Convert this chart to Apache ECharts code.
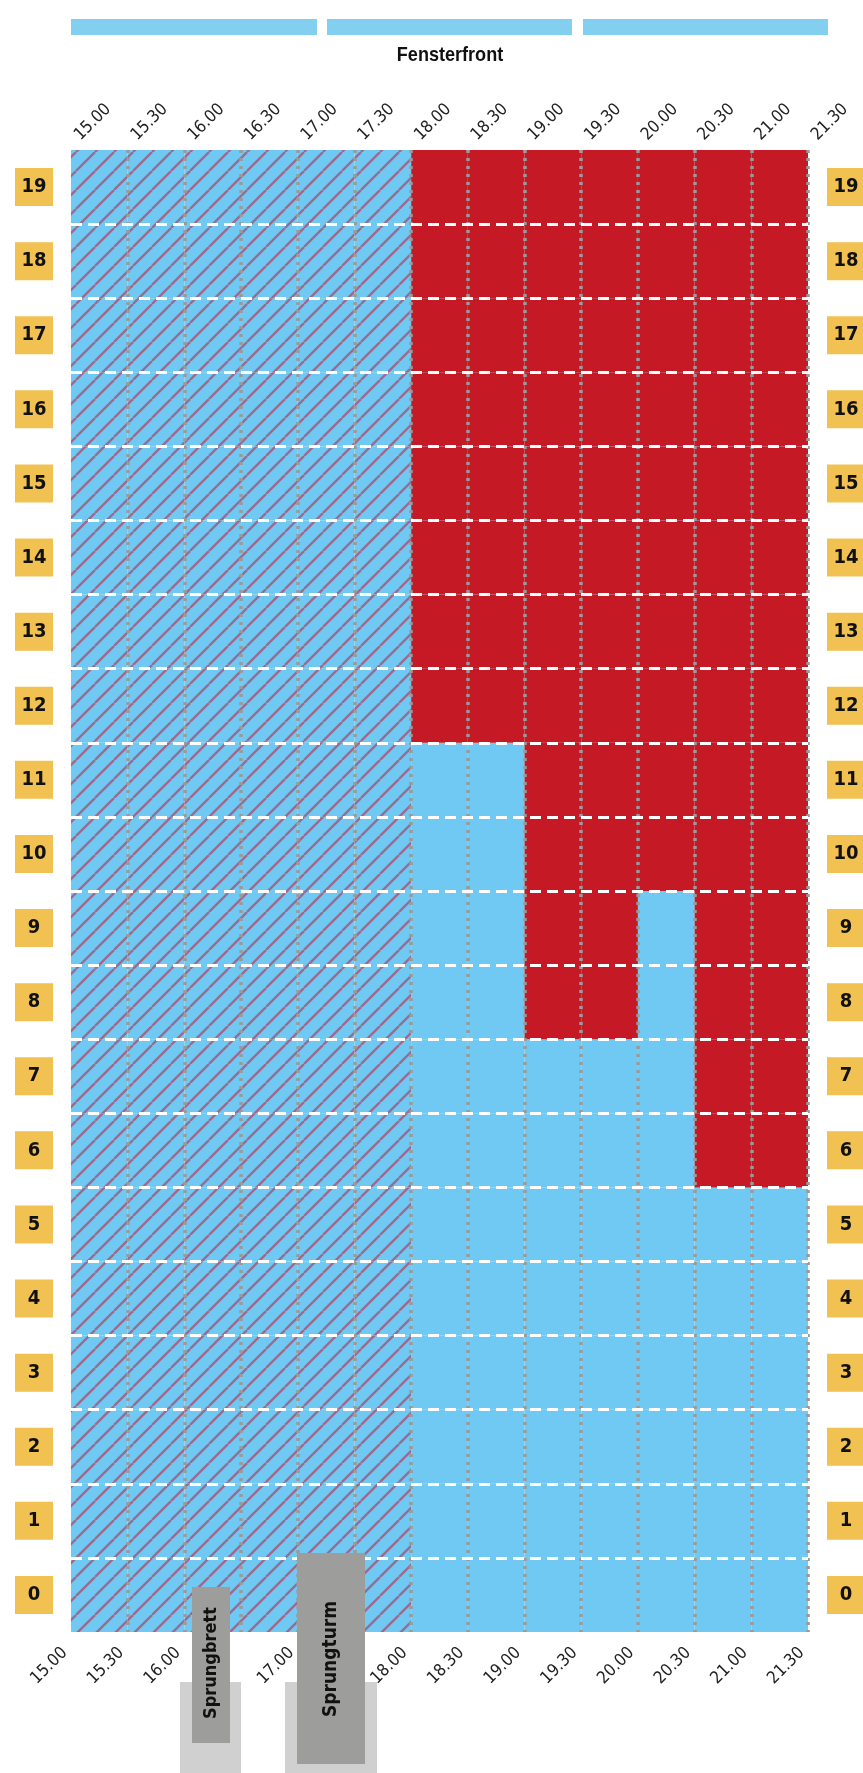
<!DOCTYPE html>
<html>
<head>
<meta charset="utf-8">
<script src="https://cdn.jsdelivr.net/npm/echarts@6/dist/echarts.min.js"></script>
<style>
  html, body { margin: 0; padding: 0; background: #fff; }
  #hallenplan { width: 863px; height: 1773px; }
</style>
</head>
<body>
<div id="hallenplan"></div>
<script>
// Zeitachse (Halbstunden-Grenzen)
const timeLabels = ["15.00", "15.30", "16.00", "16.30", "17.00", "17.30", "18.00",
  "18.30", "19.00", "19.30", "20.00", "20.30", "21.00", "21.30"];
// unten von den Sprunganlagen verdeckt
const hiddenBottomLabels = ["16.30", "17.30"];
// Bahnen
const laneLabels = ["0", "1", "2", "3", "4", "5", "6", "7", "8", "9",
  "10", "11", "12", "13", "14", "15", "16", "17", "18", "19"];
// je Bahn ein Zeichen pro Halbstunde: h = schraffiert, b = frei, r = belegt
const lanePlan = [
  "hhhhhhbbbbbbb", // 0
  "hhhhhhbbbbbbb", // 1
  "hhhhhhbbbbbbb", // 2
  "hhhhhhbbbbbbb", // 3
  "hhhhhhbbbbbbb", // 4
  "hhhhhhbbbbbbb", // 5
  "hhhhhhbbbbbrr", // 6
  "hhhhhhbbbbbrr", // 7
  "hhhhhhbbrrbrr", // 8
  "hhhhhhbbrrbrr", // 9
  "hhhhhhbbrrrrr", // 10
  "hhhhhhbbrrrrr", // 11
  "hhhhhhrrrrrrr", // 12
  "hhhhhhrrrrrrr", // 13
  "hhhhhhrrrrrrr", // 14
  "hhhhhhrrrrrrr", // 15
  "hhhhhhrrrrrrr", // 16
  "hhhhhhrrrrrrr", // 17
  "hhhhhhrrrrrrr", // 18
  "hhhhhhrrrrrrr", // 19
];

const FONT = "'Liberation Sans Narrow', 'DejaVu Sans Condensed', 'Open Sans', sans-serif";
const BLUE = "#6fc9f3";
const RED = "#c51926";

// Schraffur als Muster
const makeHatch = () => {
  const s = 19;
  const c = document.createElement("canvas");
  c.width = s;
  c.height = s;
  const ctx = c.getContext("2d");
  ctx.fillStyle = BLUE;
  ctx.fillRect(0, 0, s, s);
  ctx.strokeStyle = "#9c6a8f";
  ctx.lineWidth = 2.4;
  for (let k = -s; k <= s; k += s) {
    ctx.beginPath();
    ctx.moveTo(k, s);
    ctx.lineTo(k + s, 0);
    ctx.stroke();
  }
  return c;
};
const hatch = { image: makeHatch(), repeat: "repeat" };

// Zellen aufbauen
const cells = [];
lanePlan.forEach((row, lane) => {
  row.split("").forEach((state, slot) => {
    cells.push([slot, lane, state]);
  });
});

const chart = echarts.init(document.getElementById("hallenplan"));

const badge = {
  width: 38,
  height: 38,
  lineHeight: 38,
  align: "center",
  backgroundColor: "#f1c152",
  fontWeight: "bold",
  fontSize: 20,
  color: "#111",
  fontFamily: FONT,
};

// Zeitbeschriftung oben/unten, entlang der Schrift etwas verschoben
const timeAxis = (position, rotate, margin, pad, formatter) => ({
  type: "value",
  position: position,
  min: 0,
  max: 13,
  interval: 1,
  axisLine: { show: false },
  axisTick: { show: false },
  axisLabel: {
    rotate: rotate,
    margin: margin,
    formatter: v => "{t|" + formatter(v) + "}",
    rich: { t: { fontSize: 17, color: "#222", fontFamily: FONT, padding: pad } },
  },
});

const option = {
  animation: false,
  grid: { left: 71, top: 150, width: 737, height: 1482, outerBoundsMode: "none" },
  xAxis: [
    Object.assign(timeAxis("bottom", 45, 12, [0, 9, 0, 0], v => {
      const t = timeLabels[v];
      return hiddenBottomLabels.includes(t) ? "" : t;
    }), {
      z: 5,
      splitLine: {
        show: true,
        showMinLine: false,
        lineStyle: { color: "#9a9a9a", width: 3.5, type: [3, 5] },
      },
    }),
    Object.assign(timeAxis("top", -45, 6, [0, 0, 0, 9], v => timeLabels[v]), { splitLine: { show: false } }),
  ],
  yAxis: [
    {
      type: "category",
      data: laneLabels,
      position: "left",
      z: 6,
      axisLine: { show: false },
      axisTick: { show: false },
      axisLabel: { margin: 18, formatter: v => "{b|" + v + "}", rich: { b: badge } },
      splitLine: {
        show: true,
        showMinLine: false,
        showMaxLine: false,
        lineStyle: { color: "#fff", width: 3, type: [11, 6] },
      },
    },
    {
      type: "category",
      data: laneLabels,
      position: "right",
      axisLine: { show: false },
      axisTick: { show: false },
      axisLabel: { margin: 19, formatter: v => "{b|" + v + "}", rich: { b: badge } },
      splitLine: { show: false },
    },
  ],
  graphic: [
    // Fensterfront
    { type: "rect", shape: { x: 71, y: 19, width: 246, height: 16 }, style: { fill: "#82cff0" } },
    { type: "rect", shape: { x: 327, y: 19, width: 245, height: 16 }, style: { fill: "#82cff0" } },
    { type: "rect", shape: { x: 583, y: 19, width: 245, height: 16 }, style: { fill: "#82cff0" } },
    {
      type: "text", x: 450, y: 55, scaleX: 0.86,
      style: { text: "Fensterfront", align: "center", verticalAlign: "middle",
        fill: "#111", font: "bold 21px 'Liberation Sans', sans-serif" },
    },
    // Sprunganlagen
    { type: "rect", z: 100, shape: { x: 180, y: 1682, width: 61, height: 91 }, style: { fill: "#d0d0d0" } },
    { type: "rect", z: 100, shape: { x: 285, y: 1682, width: 92, height: 91 }, style: { fill: "#d0d0d0" } },
    { type: "rect", z: 101, shape: { x: 192, y: 1587, width: 38, height: 156 }, style: { fill: "#9d9d9c" } },
    { type: "rect", z: 101, shape: { x: 297, y: 1553, width: 68, height: 211 }, style: { fill: "#9d9d9c" } },
    {
      type: "text", z: 102, x: 211, y: 1663, rotation: Math.PI / 2,
      style: { text: "Sprungbrett", align: "center", verticalAlign: "middle",
        fill: "#111", font: "bold 18px " + FONT },
    },
    {
      type: "text", z: 102, x: 331, y: 1659, rotation: Math.PI / 2,
      style: { text: "Sprungturm", align: "center", verticalAlign: "middle",
        fill: "#111", font: "bold 19px " + FONT },
    },
  ],
  series: [
    {
      type: "custom",
      xAxisIndex: 0,
      yAxisIndex: 0,
      z: 1,
      data: cells,
      renderItem(params, api) {
        const slot = api.value(0);
        const lane = api.value(1);
        const state = cells[params.dataIndex][2];
        const a = api.coord([slot, lane]);
        const b = api.coord([slot + 1, lane]);
        const h = api.size([1, 1])[1];
        return {
          type: "rect",
          shape: { x: a[0], y: a[1] - h / 2, width: b[0] - a[0], height: h },
          style: { fill: state === "r" ? RED : state === "h" ? hatch : BLUE },
        };
      },
    },
  ],
};
option && chart.setOption(option);
</script>
</body>
</html>
